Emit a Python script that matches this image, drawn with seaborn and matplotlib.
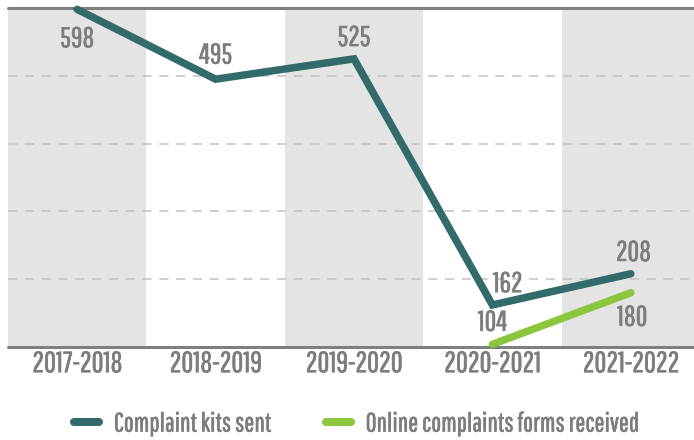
import matplotlib
matplotlib.use("Agg")
import matplotlib.pyplot as plt
import matplotlib.patheffects as pe
from matplotlib.lines import Line2D
import seaborn as sns
import pandas as pd
import numpy as np

years = ["2017-2018", "2018-2019", "2019-2020", "2020-2021", "2021-2022"]
kits_sent = [598, 495, 525, 162, 208]
online_forms = [np.nan, np.nan, np.nan, 104, 180]
series_names = ["Complaint kits sent", "Online complaints forms received"]
colors = ["#336b6b", "#8cc63f"]

sns.set_theme(style="white")
plt.rcParams["font.family"] = ["Pathway Gothic One", "DejaVu Sans"]

df = pd.DataFrame({
    "year": years * 2,
    "value": kits_sent + online_forms,
    "series": [series_names[0]] * len(years) + [series_names[1]] * len(years),
})

text_grey = "#7d7d7d"
bold = [pe.withStroke(linewidth=0.45, foreground=text_grey)]

fig = plt.figure(figsize=(6.94, 4.40), dpi=100)
ax = fig.add_axes([8 / 694, 93 / 440, 692 / 694, 339 / 440])

for i in range(0, len(years), 2):
    ax.axvspan(i - 0.5, i + 0.5, color="#e4e4e4", zorder=0, lw=0)

for yv in [200, 300, 400, 500]:
    ax.axhline(yv, color="#c2c2c2", lw=1.1, ls=(0, (6, 5)), zorder=1)
ax.axhline(600, color="#7f7f7f", lw=2.2, zorder=1, clip_on=False)
ax.axhline(100, color="#7f7f7f", lw=2.2, zorder=1, clip_on=False)

sns.lineplot(data=df, x="year", y="value", hue="series", palette=colors,
             ax=ax, legend=False, sort=False, zorder=3)
for line in ax.get_lines()[-2:]:
    line.set_linewidth(5.4)
    line.set_solid_capstyle("round")
    line.set_solid_joinstyle("miter")
    line.set_clip_on(False)

lab_kw = dict(color=text_grey, fontsize=20.5, ha="center", va="center", zorder=4,
              path_effects=bold)
kit_off = [(0, -21.5), (0, 17), (0, 15), (11, 15), (2, 15)]
for i, v in enumerate(kits_sent):
    ax.annotate(f"{v}", (i, v), xytext=kit_off[i], textcoords="offset points", **lab_kw)
on_off = {3: (0, 15.5), 4: (1, -18)}
for i, v in enumerate(online_forms):
    if not np.isnan(v):
        ax.annotate(f"{int(v)}", (i, v), xytext=on_off[i], textcoords="offset points", **lab_kw)

ax.set_xlim(-0.5, len(years) - 0.5)
ax.set_ylim(100, 600)
ax.set_yticks([])
ax.set_xlabel("")
ax.set_ylabel("")
ax.tick_params(axis="x", length=0, pad=3, labelsize=21, labelcolor=text_grey)
for t in ax.get_xticklabels():
    t.set_path_effects(bold)
for s in ax.spines.values():
    s.set_visible(False)

handles = [Line2D([0], [0], color=c, lw=5.8, solid_capstyle="round") for c in colors]
leg = fig.legend(handles, series_names, loc="center", bbox_to_anchor=(0.513, 1 - 424 / 440),
                 ncol=2, frameon=False, fontsize=19, labelcolor=text_grey,
                 handlelength=0.95, columnspacing=2.1, handletextpad=0.55)
for t in leg.get_texts():
    t.set_path_effects(bold)

fig.savefig("out.png", dpi=100)
